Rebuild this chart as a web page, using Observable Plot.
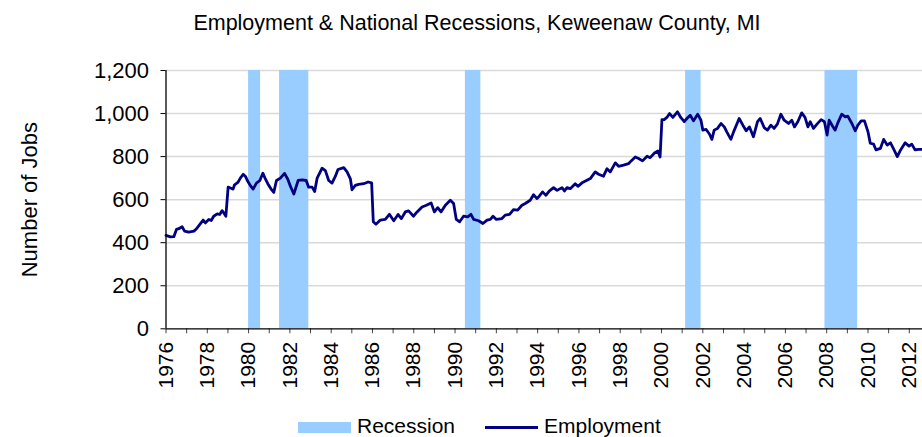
<!DOCTYPE html>
<html>
<head>
<meta charset="utf-8">
<script src="https://cdn.jsdelivr.net/npm/d3@7"></script>
<script src="https://cdn.jsdelivr.net/npm/@observablehq/plot@0.6"></script>
<style>
  html, body { margin: 0; padding: 0; background: #fff; }
  body { width: 922px; height: 437px; overflow: hidden; position: relative; font-family: "Liberation Sans", Arial, sans-serif; }
  #title { position: absolute; top: 11px; left: 0; width: 954px; text-align: center; font-size: 21.5px; color: #000; z-index: 2; }
  #legend { position: absolute; top: 414px; left: 298px; font-size: 21px; color: #000; white-space: nowrap; z-index: 2; }
  .sw { display: inline-block; vertical-align: middle; }
  #chart { position: absolute; top: 0; left: 0; }
</style>
</head>
<body>
<div id="title">Employment &amp; National Recessions, Keweenaw County, MI</div>
<div id="chart"></div>
<div id="legend">
  <span class="sw" style="width:53px;height:11px;background:#99ccff;"></span><span style="margin-left:6px;">Recession</span><span class="sw" style="width:53px;height:3px;background:#000080;margin-left:30px;"></span><span style="margin-left:6px;">Employment</span>
</div>
<script>
// Recessions (decimal years)
const recessionStart = [1980.0, 1981.5, 1990.5, 2001.167, 2007.917];
const recessionEnd   = [1980.583, 1982.917, 1991.25, 2001.917, 2009.5];

// Employment (decimal year, number of jobs)
const empYear = [
 1976.0,1976.22,1976.38,1976.51,1976.62,1976.78,1976.9,1977.1,1977.35,1977.48,1977.64,1977.8,1977.91,
 1978.07,1978.19,1978.31,1978.48,1978.6,1978.72,1978.8,1978.9,1979.01,1979.12,1979.25,1979.32,1979.48,
 1979.6,1979.74,1979.85,1979.96,1980.09,1980.22,1980.38,1980.54,1980.69,1980.82,1980.93,1981.09,1981.22,
 1981.35,1981.54,1981.74,1981.9,1982.03,1982.19,1982.4,1982.59,1982.79,1982.91,1983.08,1983.2,1983.32,
 1983.56,1983.72,1983.88,1984.04,1984.2,1984.33,1984.61,1984.77,1984.93,1985.01,1985.17,1985.33,1985.57,
 1985.79,1985.96,1986.04,1986.17,1986.38,1986.62,1986.82,1987.03,1987.24,1987.4,1987.59,1987.75,1987.99,
 1988.16,1988.4,1988.61,1988.84,1989.0,1989.16,1989.32,1989.53,1989.77,1989.93,1990.06,1990.22,1990.41,
 1990.61,1990.77,1990.9,1991.14,1991.35,1991.55,1991.71,1991.84,1992.0,1992.27,1992.43,1992.64,1992.83,
 1993.03,1993.24,1993.4,1993.64,1993.8,1993.97,1994.04,1994.24,1994.4,1994.56,1994.77,1994.94,1995.18,
 1995.3,1995.42,1995.58,1995.82,1995.95,1996.15,1996.39,1996.55,1996.79,1996.95,1997.19,1997.36,1997.52,
 1997.76,1997.92,1998.16,1998.4,1998.53,1998.73,1998.89,1999.08,1999.3,1999.45,1999.66,1999.82,1999.93,
 2000.02,2000.13,2000.26,2000.39,2000.55,2000.77,2000.93,2001.1,2001.23,2001.39,2001.55,2001.75,2001.91,
 2002.0,2002.16,2002.32,2002.44,2002.55,2002.71,2002.88,2003.04,2003.16,2003.36,2003.49,2003.76,2003.94,
 2004.1,2004.26,2004.45,2004.65,2004.78,2004.97,2005.13,2005.3,2005.45,2005.61,2005.78,2005.94,2006.15,
 2006.31,2006.44,2006.6,2006.79,2006.95,2007.09,2007.2,2007.36,2007.53,2007.73,2007.89,2008.02,2008.12,
 2008.28,2008.41,2008.54,2008.73,2008.9,2009.02,2009.22,2009.38,2009.51,2009.67,2009.83,2010.0,2010.11,
 2010.27,2010.39,2010.6,2010.76,2010.93,2011.09,2011.25,2011.42,2011.58,2011.8,2011.99,2012.12,2012.28,
 2012.45,2012.64
];
const empValue = [
 434,427,428,462,465,474,454,449,454,465,485,505,492,
 508,503,523,534,531,549,538,523,658,654,649,669,680,
 700,718,708,685,665,649,677,688,723,695,674,649,634,
 689,700,722,695,661,626,689,692,689,658,658,638,700,
 746,735,689,677,708,740,749,729,697,646,666,671,674,
 682,678,497,486,505,508,532,502,531,512,543,548,523,
 543,566,574,585,543,563,543,574,597,582,508,497,523,
 520,532,508,502,489,505,508,523,508,512,528,532,554,
 551,574,582,597,623,605,612,636,620,640,656,643,656,
 640,656,651,674,662,678,690,698,729,718,709,744,729,
 771,755,760,767,780,798,791,780,802,795,817,826,798,
 972,972,982,1000,982,1008,982,962,977,992,966,997,969,
 923,926,905,880,923,931,954,938,915,880,915,977,946,
 920,938,892,962,977,935,923,946,931,951,997,969,954,
 969,938,962,1003,982,938,962,931,951,972,962,900,969,
 942,923,957,997,985,988,954,920,946,966,966,915,862,
 858,831,838,880,854,864,834,800,831,864,849,858,831,
 834,834
];

const yTicks = [0, 200, 400, 600, 800, 1000, 1200];
const xTickYears = d3.range(1976, 2013, 1);

const recessions = recessionStart.map((s, i) => ({start: s, end: recessionEnd[i]}));
const employment = empYear.map((t, i) => ({t, v: empValue[i]}));

const chart = Plot.plot({
  width: 922,
  height: 437,
  marginTop: 70,
  marginLeft: 165.5,
  marginRight: 0,
  marginBottom: 108.7,
  style: {fontFamily: '"Liberation Sans", Arial, sans-serif', fontSize: "21px", color: "#000", background: "transparent"},
  x: {domain: [1976, 2012.64]},
  y: {domain: [0, 1200]},
  marks: [
    Plot.ruleY(yTicks.slice(1), {stroke: "#d9d9d9", strokeWidth: 1.5}),
    Plot.rect(recessions, {x1: "start", x2: "end", y1: 0, y2: 1200, fill: "#99ccff"}),
    Plot.line(employment, {x: "t", y: "v", stroke: "#000080", strokeWidth: 2.8, strokeLinejoin: "round"}),
    Plot.axisX({ticks: xTickYears, tickFormat: d => (d % 2 === 0 ? String(d) : ""), tickRotate: -90, tickSize: 5, tickPadding: 8, label: null, stroke: "#444", fontSize: "21px"}),
    Plot.axisY({ticks: yTicks, tickFormat: d3.format(","), tickSize: 5, tickPadding: 12, label: "Number of Jobs", labelAnchor: "center", labelOffset: 145, labelArrow: "none", fontSize: "22px"}),
    Plot.ruleY([0], {stroke: "#000", strokeWidth: 1.3}),
    Plot.ruleX([1976], {stroke: "#000", strokeWidth: 1.3})
  ]
});
document.getElementById("chart").appendChild(chart);
</script>
</body>
</html>
